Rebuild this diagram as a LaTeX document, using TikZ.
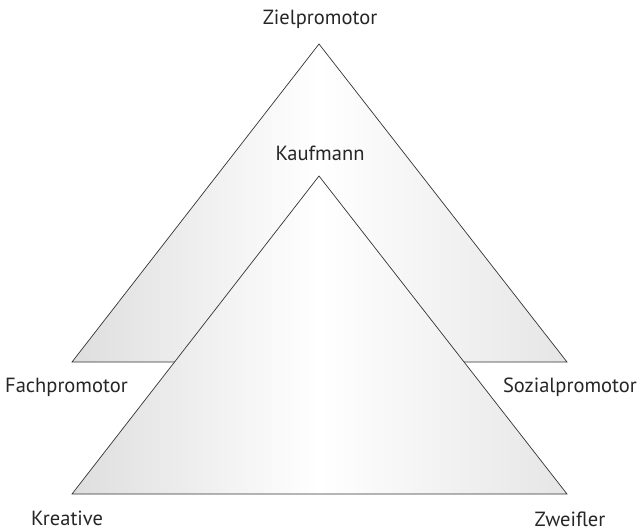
\documentclass[tikz,border=0pt]{standalone}
\usepackage{fontspec}
\setmainfont{PT Sans}
\usepackage{tikz}
\usetikzlibrary{calc}
\tikzset{
 tri/.style={draw=black!80, line width=0.7pt, left color=black!13, right color=black!10, middle color=white},
 lbl/.style={font=\fontsize{20.5}{24}\selectfont, text=black!85, inner sep=0pt}
}

\begin{document}
\begin{tikzpicture}[x=1pt, y=-1pt]
\useasboundingbox (0,0) rectangle (642,531);
% back and front triangle
\foreach \name/\dy in {back/0, front/132} {
 \coordinate (\name top) at (319,44+\dy);
 \coordinate (\name left) at (72,362+\dy);
 \coordinate (\name right) at (567,362+\dy);
 \draw[tri] (\name top) -- (\name left) -- (\name right) -- cycle;
}
\node[lbl] (ziel) at (320,19) {Zielpromotor};
\node[lbl] (kauf) at (320,153) {Kaufmann};
\node[lbl, anchor=west] (fach) at (5,387) {Fachpromotor};
\node[lbl, anchor=east] (sozial) at (637,387) {Sozialpromotor};
\node[lbl, anchor=base] (kreativ) at (67,525) {Kreative};
\node[lbl, anchor=base] (zweifler) at (570,526) {Zweifler};
\end{tikzpicture}
\end{document}
